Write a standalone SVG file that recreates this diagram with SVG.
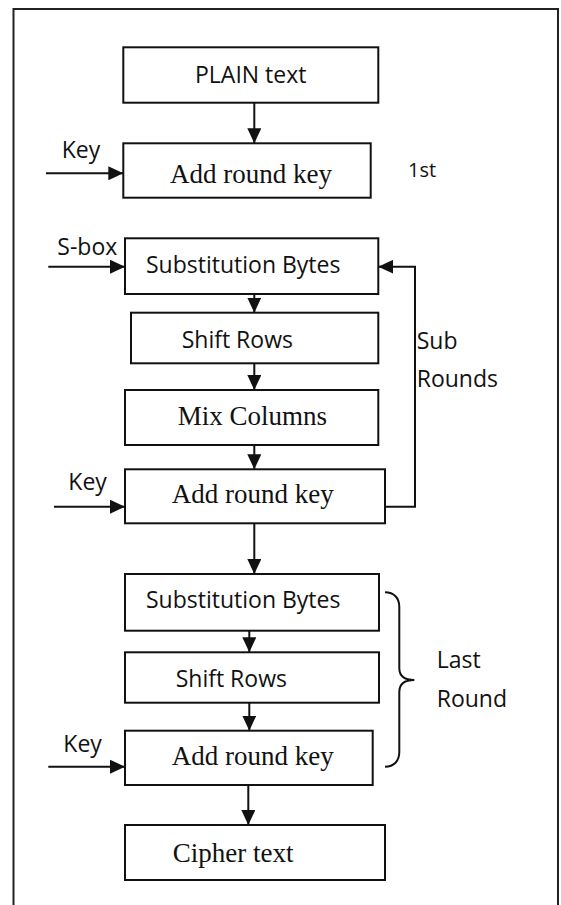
<svg xmlns="http://www.w3.org/2000/svg" width="561" height="905" viewBox="0 0 561 905">
<style>
.frame{fill:none;stroke:#222;stroke-width:2}
.box{fill:#fff;stroke:#111;stroke-width:2}
.ln{fill:none;stroke:#111;stroke-width:2}
.sans{font-family:"Open Sans","Noto Sans",sans-serif;font-size:23px;fill:#111}
.small{font-size:20px}
.serif{font-family:"Liberation Serif","Times New Roman",serif;font-size:27px;fill:#111}
</style>
<defs>
<marker id="ah" markerUnits="userSpaceOnUse" markerWidth="16" markerHeight="14" refX="15" refY="7" orient="auto">
<path d="M0,0 L15,7 L0,14 z" fill="#111"/>
</marker>
</defs>
<rect width="561" height="905" fill="#fff"/>
<path class="frame" d="M13.5,906 V9 H558 V906"/>

<g id="plain">
<rect class="box" x="123.3" y="47.3" width="255" height="55.4"/>
<text class="sans" x="195" y="83.3">PLAIN text</text>
</g>
<g id="ark1">
<rect class="box" x="123.3" y="143.3" width="247.4" height="54.4"/>
<text class="serif" x="170" y="182.7">Add round key</text>
</g>
<g id="sb1">
<rect class="box" x="125" y="238.3" width="253.3" height="55.7"/>
<text class="sans" x="146" y="273.3">Substitution Bytes</text>
</g>
<g id="sr1">
<rect class="box" x="131" y="312.7" width="247.3" height="50.6"/>
<text class="sans" x="181.7" y="348.3">Shift Rows</text>
</g>
<g id="mc">
<rect class="box" x="125" y="390" width="253.3" height="55"/>
<text class="serif" x="177.7" y="425">Mix Columns</text>
</g>
<g id="ark2">
<rect class="box" x="125" y="469.3" width="260" height="54"/>
<text class="serif" x="171.7" y="503.3">Add round key</text>
</g>
<g id="sb2">
<rect class="box" x="125" y="574" width="254" height="56.7"/>
<text class="sans" x="146" y="608.3">Substitution Bytes</text>
</g>
<g id="sr2">
<rect class="box" x="125" y="652.3" width="254" height="50.4"/>
<text class="sans" x="175.7" y="686.7">Shift Rows</text>
</g>
<g id="ark3">
<rect class="box" x="125" y="730.7" width="247.7" height="54.3"/>
<text class="serif" x="171.7" y="765">Add round key</text>
</g>
<g id="cipher">
<rect class="box" x="125" y="825" width="260" height="55"/>
<text class="serif" x="172.7" y="861.7">Cipher text</text>
</g>

<g id="labels">
<text class="sans" x="61.7" y="158">Key</text>
<text class="sans small" x="408" y="177">1st</text>
<text class="sans" x="57.3" y="255">S-box</text>
<text class="sans" x="416.7" y="349.3">Sub</text>
<text class="sans" x="416.7" y="386.7">Rounds</text>
<text class="sans" x="68.3" y="490">Key</text>
<text class="sans" x="436.7" y="668.3">Last</text>
<text class="sans" x="436.7" y="706.7">Round</text>
<text class="sans" x="63.3" y="751.7">Key</text>
</g>

<g id="connectors">
<path class="ln" d="M254.3,102.7 V143.3" marker-end="url(#ah)"/>
<path class="ln" d="M46,173.3 H123.3" marker-end="url(#ah)"/>
<path class="ln" d="M48.3,266.7 H125" marker-end="url(#ah)"/>
<path class="ln" d="M254.3,294 V312.7" marker-end="url(#ah)"/>
<path class="ln" d="M254.3,363.3 V390" marker-end="url(#ah)"/>
<path class="ln" d="M254.3,445 V469.3" marker-end="url(#ah)"/>
<path class="ln" d="M54,506.7 H125" marker-end="url(#ah)"/>
<path class="ln" d="M385,506.7 H415 V266.7 H378.3" marker-end="url(#ah)"/>
<path class="ln" d="M254.3,523.3 V574" marker-end="url(#ah)"/>
<path class="ln" d="M249.3,630.7 V652.3" marker-end="url(#ah)"/>
<path class="ln" d="M249.3,702.7 V730.7" marker-end="url(#ah)"/>
<path class="ln" d="M48.3,766.7 H125" marker-end="url(#ah)"/>
<path class="ln" d="M248.3,785 V825" marker-end="url(#ah)"/>
<path class="ln" d="M385,592.3 C394,592.3 399.3,598 399.3,606.7 L399.3,668 C399.3,676 405,680 414.3,680 C405,680 399.3,684 399.3,692 L399.3,752 C399.3,761 394,766.7 385,766.7"/>
</g>
</svg>
